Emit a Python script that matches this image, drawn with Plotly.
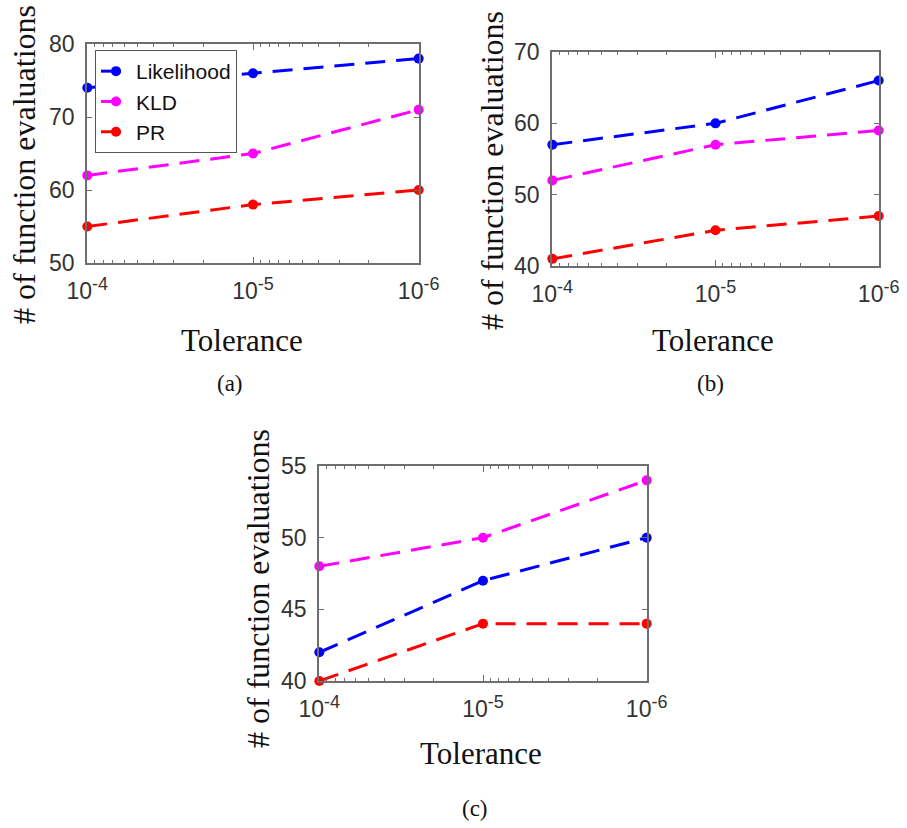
import plotly.graph_objects as go

# ---------------- data ----------------
tolerance = [1e-4, 1e-5, 1e-6]
tick_labels = ["10<sup><span style='font-size:18px'>-4</span></sup>",
               "10<sup><span style='font-size:18px'>-5</span></sup>",
               "10<sup><span style='font-size:18px'>-6</span></sup>"]
series_names = ["Likelihood", "KLD", "PR"]

a_likelihood = [74, 76, 78]
a_kld = [62, 65, 71]
a_pr = [55, 58, 60]

b_likelihood = [57, 60, 66]
b_kld = [52, 57, 59]
b_pr = [41, 45, 47]

c_likelihood = [42, 47, 50]
c_kld = [48, 50, 54]
c_pr = [40, 44, 44]

a_yticks = [50, 60, 70, 80]
b_yticks = [40, 50, 60, 70]
c_yticks = [40, 45, 50, 55]

panel_labels = ["(a)", "(b)", "(c)"]
x_title = "Tolerance"
y_title = "# of function evaluations"

# ---------------- styling ----------------
W, H = 907, 828
colors = {"Likelihood": "#0000FF", "KLD": "#FF00FF", "PR": "#FF0000"}
AXIS_COLOR = "#6e6e6e"
TICK_FONT = dict(family="Liberation Sans, Arial, sans-serif", size=23, color="#333333")
SERIF = "Liberation Serif, Times New Roman, serif"


def xdom(l, r):
    return [l / W, r / W]


def ydom(t, b):
    return [1 - b / H, 1 - t / H]


# pixel boxes of the three plot areas (left, right, top, bottom)
boxes = {
    "a": (87, 419, 44, 263),
    "b": (552, 879, 52, 266),
    "c": (319, 647, 466, 681),
}

minor_vals = [k * 10.0 ** e for e in (-6, -5) for k in range(2, 10)]
EPS = 0.002

fig = go.Figure()

panels = [
    ("a", "x", "y", [a_likelihood, a_kld, a_pr], a_yticks, True),
    ("b", "x2", "y2", [b_likelihood, b_kld, b_pr], b_yticks, False),
    ("c", "x3", "y3", [c_likelihood, c_kld, c_pr], c_yticks, False),
]

for key, xa, ya, series, yt, show in panels:
    for name, vals in zip(series_names, series):
        fig.add_trace(go.Scatter(
            x=tolerance, y=vals, name=name, mode="lines+markers",
            xaxis=xa, yaxis=ya, showlegend=show, cliponaxis=False,
            line=dict(color=colors[name], width=3, dash="20px,11px"),
            marker=dict(color=colors[name], size=10, symbol="circle"),
        ))

layout_axes = {}
for i, (key, xa, ya, series, yt, show) in enumerate(panels):
    l, r, t, b = boxes[key]
    xname = "xaxis" if i == 0 else f"xaxis{i+1}"
    yname = "yaxis" if i == 0 else f"yaxis{i+1}"
    layout_axes[xname] = dict(
        domain=xdom(l, r), anchor=ya, automargin=False,
        type="log", range=[-4 + EPS, -6 - EPS],
        tickmode="array", tickvals=tolerance, ticktext=tick_labels,
        ticks="inside", ticklen=6, tickcolor=AXIS_COLOR, tickwidth=1,
        minor=dict(tickvals=minor_vals, ticks="inside", ticklen=3,
                   tickcolor=AXIS_COLOR, tickwidth=1, showgrid=False),
        showline=True, linecolor=AXIS_COLOR, linewidth=1.5, mirror="ticks",
        showgrid=False, zeroline=False, tickfont=TICK_FONT,
        ticklabelstandoff=7,
    )
    layout_axes[yname] = dict(
        domain=ydom(t, b), anchor=xa, automargin=False,
        range=[yt[0] - 0.001, yt[-1] + 0.001], tickmode="array", tickvals=yt,
        ticks="inside", ticklen=5, tickcolor=AXIS_COLOR, tickwidth=1,
        showline=True, linecolor=AXIS_COLOR, linewidth=1.5, mirror="ticks",
        showgrid=False, zeroline=False, tickfont=TICK_FONT,
        ticklabelstandoff=6,
    )

fig.update_layout(**layout_axes)

annotations = []
xt_pos = {"a": (242, 340), "b": (713, 340), "c": (481, 753)}
yt_pos = {"a": (24, 165), "b": (492, 171), "c": (258, 589)}
lab_pos = {"a": (230, 383), "b": (710, 383), "c": (475, 808)}
for key, lab in zip(["a", "b", "c"], panel_labels):
    x, y = xt_pos[key]
    annotations.append(dict(text=x_title, x=x / W, y=1 - y / H, xref="paper", yref="paper",
                            xanchor="center", yanchor="middle", showarrow=False,
                            font=dict(family=SERIF, size=31, color="#111111")))
    x, y = yt_pos[key]
    annotations.append(dict(text=y_title, x=x / W, y=1 - y / H, xref="paper", yref="paper",
                            xanchor="center", yanchor="middle", showarrow=False, textangle=-90,
                            font=dict(family=SERIF, size=32, color="#111111")))
    x, y = lab_pos[key]
    annotations.append(dict(text=lab, x=x / W, y=1 - y / H, xref="paper", yref="paper",
                            xanchor="center", yanchor="middle", showarrow=False,
                            font=dict(family=SERIF, size=23, color="#111111")))

fig.update_layout(
    template="none",
    width=W, height=H, autosize=False,
    margin=dict(l=0, r=0, t=0, b=0, pad=0),
    paper_bgcolor="white", plot_bgcolor="white",
    annotations=annotations,
    showlegend=True,
    legend=dict(x=95 / W, y=1 - 50 / H, xanchor="left", yanchor="top",
                bgcolor="white", bordercolor="#555555", borderwidth=1,
                font=dict(family="Liberation Sans, Arial, sans-serif", size=21, color="#111111"),
                tracegroupgap=0, itemwidth=30),
)

fig.write_html("out.html", config={"displayModeBar": False},
               post_script="document.body.style.margin='0px';document.body.style.overflow='hidden';")
